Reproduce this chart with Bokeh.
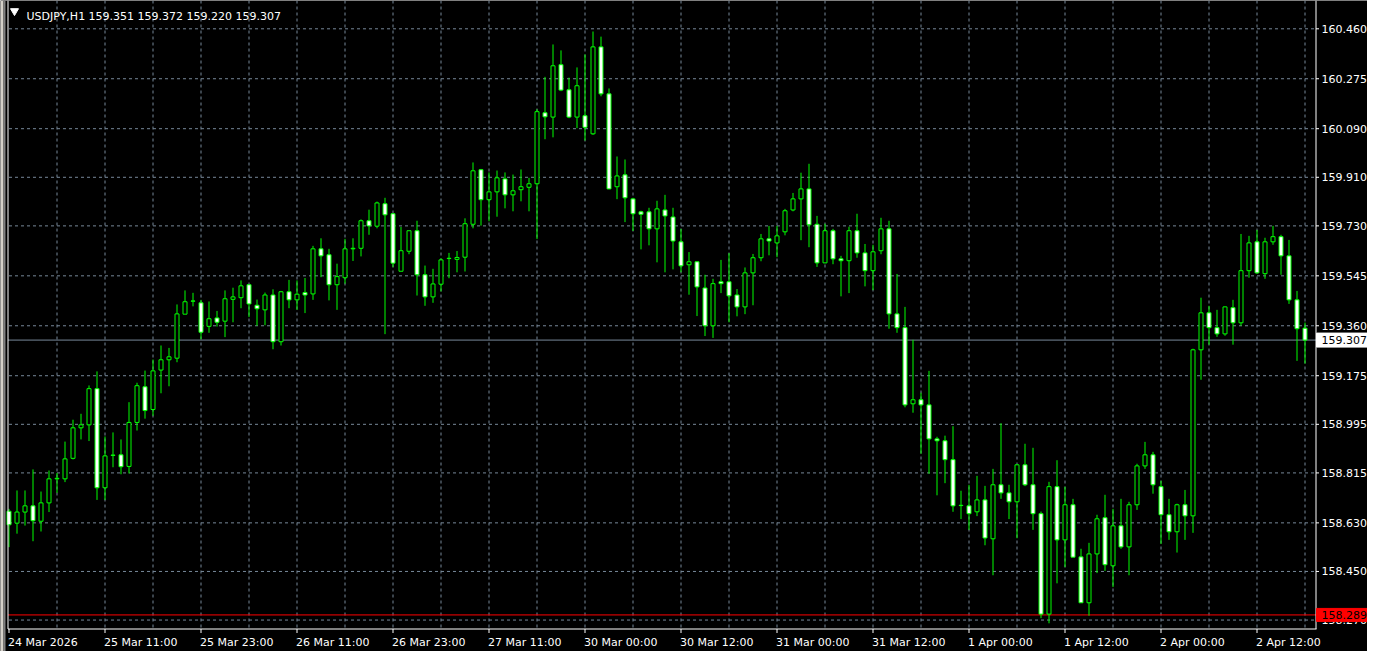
from bokeh.plotting import figure
from bokeh.models import Range1d, ColumnDataSource
from bokeh.core.properties import value
from bokeh.embed import file_html
from bokeh.resources import INLINE

# ---------------- data (USDJPY, H1) ----------------
symbol = "USDJPY,H1"

opens = [158.673, 158.629, 158.670, 158.693, 158.636, 158.704, 158.793, 158.793, 158.869, 158.982,
         158.993, 159.127, 158.760, 158.881, 158.882, 158.839, 159.002, 159.134, 159.050, 159.196,
         159.234, 159.240, 159.403, 159.451, 159.445, 159.358, 159.389, 159.377, 159.458, 159.464,
         159.512, 159.436, 159.419, 159.474, 159.301, 159.486, 159.456, 159.483, 159.478, 159.645,
         159.623, 159.512, 159.538, 159.645, 159.647, 159.749, 159.729, 159.812, 159.775, 159.562,
         159.636, 159.712, 159.549, 159.467, 159.514, 159.609, 159.606, 159.614, 159.736, 159.938,
         159.827, 159.856, 159.904, 159.845, 159.864, 159.873, 159.886, 160.149, 160.133, 160.327,
         160.234, 160.133, 160.138, 160.071, 160.393, 160.219, 159.875, 159.919, 159.830, 159.782,
         159.782, 159.719, 159.789, 159.763, 159.671, 159.586, 159.597, 159.500, 159.360, 159.523,
         159.523, 159.474, 159.430, 159.556, 159.612, 159.682, 159.667, 159.708, 159.789, 159.830,
         159.867, 159.736, 159.593, 159.712, 159.608, 159.601, 159.712, 159.630, 159.564, 159.638,
         159.719, 159.404, 159.353, 159.071, 159.086, 159.067, 158.941, 158.934, 158.864, 158.695,
         158.693, 158.671, 158.715, 158.571, 158.771, 158.741, 158.708, 158.845, 158.771, 158.664,
         158.292, 158.764, 158.567, 158.697, 158.504, 158.334, 158.515, 158.649, 158.471, 158.619,
         158.541, 158.697, 158.841, 158.882, 158.764, 158.660, 158.597, 158.697, 158.656, 159.271,
         159.408, 159.353, 159.330, 159.427, 159.371, 159.564, 159.671, 159.553, 159.671, 159.690,
         159.619, 159.456, 159.351]

highs = [158.682, 158.750, 158.750, 158.828, 158.746, 158.824, 158.815, 158.931, 159.012, 159.034,
         159.139, 159.191, 158.950, 158.965, 158.939, 159.077, 159.149, 159.194, 159.235, 159.287,
         159.278, 159.439, 159.491, 159.482, 159.456, 159.450, 159.415, 159.491, 159.501, 159.528,
         159.513, 159.457, 159.483, 159.495, 159.489, 159.530, 159.528, 159.537, 159.656, 159.684,
         159.645, 159.590, 159.682, 159.684, 159.754, 159.790, 159.820, 159.834, 159.776, 159.726,
         159.712, 159.749, 159.583, 159.571, 159.610, 159.630, 159.637, 159.758, 159.965, 159.941,
         159.928, 159.935, 159.928, 159.920, 159.939, 159.908, 160.162, 160.282, 160.402, 160.380,
         160.279, 160.317, 160.365, 160.450, 160.431, 160.239, 159.987, 159.976, 159.834, 159.786,
         159.797, 159.823, 159.845, 159.797, 159.719, 159.633, 159.598, 159.549, 159.534, 159.604,
         159.629, 159.496, 159.576, 159.626, 159.700, 159.730, 159.730, 159.793, 159.852, 159.927,
         159.960, 159.767, 159.738, 159.719, 159.619, 159.727, 159.775, 159.663, 159.660, 159.760,
         159.749, 159.552, 159.430, 159.308, 159.112, 159.193, 158.949, 158.953, 158.988, 158.749,
         158.771, 158.804, 158.767, 158.830, 158.999, 158.771, 158.846, 158.923, 158.908, 158.672,
         158.782, 158.862, 158.764, 158.719, 158.534, 158.556, 158.660, 158.734, 158.682, 158.719,
         158.708, 158.849, 158.930, 158.893, 158.786, 158.719, 158.701, 158.752, 159.275, 159.464,
         159.434, 159.419, 159.431, 159.456, 159.700, 159.693, 159.715, 159.686, 159.730, 159.697,
         159.678, 159.489, 159.372]

lows = [158.540, 158.590, 158.620, 158.562, 158.598, 158.670, 158.741, 158.781, 158.865, 158.939,
        158.933, 158.715, 158.715, 158.836, 158.810, 158.813, 158.972, 159.016, 159.027, 159.110,
        159.136, 159.225, 159.403, 159.432, 159.310, 159.334, 159.357, 159.318, 159.373, 159.425,
        159.392, 159.360, 159.362, 159.273, 159.287, 159.425, 159.419, 159.407, 159.456, 159.540,
        159.454, 159.419, 159.516, 159.600, 159.617, 159.697, 159.721, 159.329, 159.577, 159.562,
        159.625, 159.472, 159.434, 159.445, 159.487, 159.536, 159.558, 159.561, 159.721, 159.731,
        159.747, 159.764, 159.795, 159.784, 159.821, 159.784, 159.681, 160.051, 160.058, 160.229,
        160.129, 160.092, 160.046, 160.067, 160.210, 159.866, 159.829, 159.744, 159.711, 159.643,
        159.658, 159.595, 159.558, 159.569, 159.558, 159.475, 159.396, 159.322, 159.315, 159.481,
        159.373, 159.395, 159.403, 159.436, 159.599, 159.621, 159.614, 159.695, 159.784, 159.677,
        159.651, 159.578, 159.592, 159.588, 159.469, 159.481, 159.612, 159.506, 159.492, 159.625,
        159.349, 159.334, 159.058, 159.038, 158.886, 158.812, 158.732, 158.777, 158.671, 158.644,
        158.604, 158.655, 158.547, 158.436, 158.719, 158.644, 158.573, 158.766, 158.604, 158.277,
        158.258, 158.406, 158.466, 158.502, 158.333, 158.286, 158.444, 158.452, 158.392, 158.534,
        158.436, 158.678, 158.830, 158.738, 158.552, 158.567, 158.520, 158.567, 158.593, 159.160,
        159.290, 159.319, 159.323, 159.290, 159.360, 159.538, 159.553, 159.534, 159.660, 159.549,
        159.441, 159.230, 159.220]

closes = [158.623, 158.670, 158.693, 158.638, 158.704, 158.793, 158.795, 158.867, 158.982, 158.993,
          159.127, 158.760, 158.878, 158.880, 158.838, 159.002, 159.138, 159.046, 159.193, 159.234,
          159.245, 159.404, 159.449, 159.452, 159.336, 159.386, 159.373, 159.460, 159.467, 159.508,
          159.441, 159.423, 159.474, 159.301, 159.486, 159.456, 159.477, 159.474, 159.645, 159.619,
          159.512, 159.542, 159.645, 159.647, 159.749, 159.730, 159.815, 159.771, 159.592, 159.638,
          159.712, 159.549, 159.467, 159.515, 159.604, 159.610, 159.613, 159.738, 159.934, 159.827,
          159.856, 159.908, 159.845, 159.860, 159.875, 159.886, 160.153, 160.134, 160.323, 160.233,
          160.133, 160.249, 160.095, 160.393, 160.219, 159.867, 159.915, 159.834, 159.775, 159.773,
          159.719, 159.793, 159.767, 159.674, 159.582, 159.597, 159.504, 159.360, 159.516, 159.516,
          159.471, 159.430, 159.556, 159.612, 159.682, 159.674, 159.693, 159.786, 159.830, 159.867,
          159.734, 159.593, 159.712, 159.608, 159.601, 159.712, 159.630, 159.564, 159.634, 159.719,
          159.404, 159.353, 159.067, 159.086, 159.067, 158.941, 158.934, 158.864, 158.693, 158.694,
          158.664, 158.715, 158.574, 158.771, 158.741, 158.708, 158.845, 158.771, 158.664, 158.292,
          158.764, 158.567, 158.697, 158.503, 158.334, 158.515, 158.645, 158.475, 158.619, 158.541,
          158.697, 158.841, 158.882, 158.771, 158.660, 158.597, 158.697, 158.656, 159.271, 159.408,
          159.353, 159.330, 159.430, 159.371, 159.564, 159.667, 159.556, 159.671, 159.690, 159.619,
          159.456, 159.349, 159.307]

price_ticks = [160.460, 160.275, 160.090, 159.910, 159.730, 159.545, 159.360,
               159.175, 158.995, 158.815, 158.630, 158.450, 158.270]

time_labels = ["24 Mar 2026", "25 Mar 11:00", "25 Mar 23:00", "26 Mar 11:00", "26 Mar 23:00",
               "27 Mar 11:00", "30 Mar 00:00", "30 Mar 12:00", "31 Mar 00:00", "31 Mar 12:00",
               "1 Apr 00:00", "1 Apr 12:00", "2 Apr 00:00", "2 Apr 12:00"]
time_label_bars = [0, 12, 24, 36, 48, 60, 72, 84, 96, 108, 120, 132, 144, 156]
grid_bars = list(range(6, 163, 6))

bid_price = 159.307
level_price = 158.289

# ---------------- style / layout ----------------
BG = "#000000"
LIME = "#00ff00"
GRID = "#778899"
FONT = value("DejaVu Sans")
FS = "11px"

W, H = 1367, 651            # canvas size
PX_BAR = 8.0                # pixels per bar
X0_PX = 8.5                 # pixel centre of bar 0
K = 0.003704                # price per pixel
P0 = price_ticks[0] + 28.3 * K   # price at top edge of canvas

def xd(px):
    return (px - X0_PX) / PX_BAR

def yd(py):
    return P0 - py * K

CH_L, CH_R, CH_B = 7.5, 1315.5, 628.5   # chart box edges (px)
TIME_BASE = 642                         # baseline of time labels (px)

n = len(opens)
idx = list(range(n))
body_top = [max(o, c) for o, c in zip(opens, closes)]
body_bot = [min(o, c) for o, c in zip(opens, closes)]
body_fill = ["#000000" if c >= o else "#ffffff" for o, c in zip(opens, closes)]
src = ColumnDataSource(dict(x=idx, high=highs, low=lows, top=body_top,
                            bottom=body_bot, fill=body_fill))

p = figure(width=W, height=H, x_range=Range1d(xd(0), xd(W)), y_range=Range1d(yd(H), yd(0)),
           x_axis_type=None, y_axis_type=None,
           output_backend="svg", toolbar_location=None,
           background_fill_color=BG, border_fill_color=BG,
           min_border=0)
p.outline_line_color = None
p.grid.visible = False

# window edge at the left
p.quad(left=[xd(0)], right=[xd(3)], top=[yd(0)], bottom=[yd(H)],
       fill_color="#d4d0c8", line_color=None)
p.quad(left=[xd(3)], right=[xd(5)], top=[yd(0)], bottom=[yd(H)],
       fill_color="#808080", line_color=None)

# grid (dashed)
p.segment(x0=xd(CH_L + 1), x1=xd(CH_R), y0=price_ticks, y1=price_ticks,
          line_color=GRID, line_width=1, line_dash="3 3")
p.segment(x0=grid_bars, x1=grid_bars, y0=yd(0), y1=yd(CH_B - 0.5),
          line_color=GRID, line_width=1, line_dash="3 3")

# bid line and level line
p.segment(x0=[xd(CH_L)], x1=[xd(CH_R)], y0=[bid_price], y1=[bid_price],
          line_color=GRID, line_width=1)
p.segment(x0=[xd(CH_L)], x1=[xd(CH_R)], y0=[level_price], y1=[level_price],
          line_color="#ff0000", line_width=1)

# candles
p.segment(x0="x", y0="high", x1="x", y1="low", source=src, line_color=LIME, line_width=1)
p.vbar(x="x", width=0.5, top="top", bottom="bottom", source=src,
       fill_color="fill", line_color=LIME, line_width=1)

# chart frame (white)
p.segment(x0=[xd(CH_L), xd(CH_L), xd(CH_R)], x1=[xd(CH_L), xd(CH_R + 0.5), xd(CH_R)],
          y0=[yd(0), yd(CH_B), yd(0)], y1=[yd(CH_B), yd(CH_B), yd(CH_B)],
          line_color="white", line_width=1)

# price scale: ticks + labels
p.segment(x0=xd(CH_R), x1=xd(CH_R + 3), y0=price_ticks, y1=price_ticks,
          line_color="white", line_width=1)
p.text(x=xd(1321), y=price_ticks, text=[f"{v:.3f}" for v in price_ticks],
       text_color="white", text_font=FONT, text_font_size=FS,
       text_align="left", text_baseline="middle")

# time scale: ticks + labels (left-aligned at the tick, MetaTrader style)
p.segment(x0=time_label_bars, x1=time_label_bars, y0=yd(CH_B), y1=yd(CH_B + 4),
          line_color="white", line_width=1)
p.text(x=time_label_bars, y=yd(TIME_BASE), text=time_labels,
       text_color="white", text_font=FONT, text_font_size=FS,
       text_align="left", text_baseline="alphabetic", x_offset=-1)

# price tags on the scale
p.quad(left=[xd(CH_R + 0.5)], right=[xd(W)], top=[bid_price + 7 * K], bottom=[bid_price - 7 * K],
       fill_color="white", line_color="white")
p.text(x=[xd(1321)], y=[bid_price], text=[f"{bid_price:.3f}"],
       text_color="black", text_font=FONT, text_font_size=FS,
       text_align="left", text_baseline="middle")
p.quad(left=[xd(CH_R + 0.5)], right=[xd(W)], top=[level_price + 6.5 * K],
       bottom=[level_price - 6.5 * K], fill_color="#ff0000", line_color="#ff0000")
p.text(x=[xd(1321)], y=[level_price], text=[f"{level_price:.3f}"],
       text_color="black", text_font=FONT, text_font_size=FS,
       text_align="left", text_baseline="middle")

# title
p.scatter(x=[xd(14)], y=[yd(10.5)], marker="inverted_triangle", size=8,
          fill_color="white", line_color="white")
title_text = f"{symbol}  {opens[-1]:.3f} {highs[-1]:.3f} {lows[-1]:.3f} {closes[-1]:.3f}"
p.text(x=[xd(26)], y=[yd(16)], text=[title_text], text_color="white",
       text_font=FONT, text_font_size=FS, text_align="left", text_baseline="alphabetic")

open("out.html", "w").write(file_html(p, INLINE))
